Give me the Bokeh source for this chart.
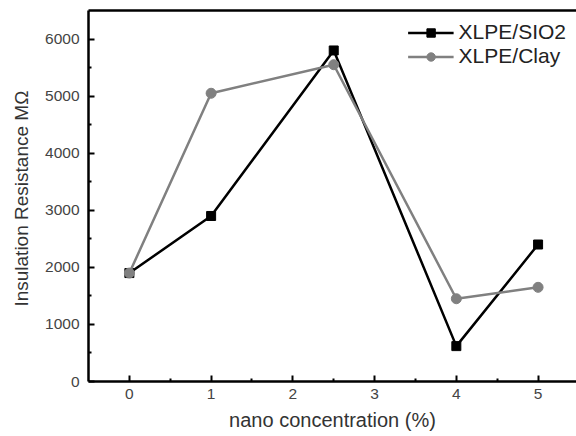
from bokeh.plotting import figure
from bokeh.models import Range1d, FixedTicker, Legend, LegendItem, LinearAxis
from bokeh.embed import file_html
from bokeh.resources import INLINE

x_vals = [0, 1, 2.5, 4, 5]
sio2 = [1900, 2900, 5800, 620, 2400]
clay = [1900, 5050, 5550, 1450, 1650]
x_ticks = [0, 1, 2, 3, 4, 5]
y_ticks = [0, 1000, 2000, 3000, 4000, 5000, 6000]

FONT = "Liberation Sans"

p = figure(width=576, height=436, output_backend="svg", toolbar_location=None,
           x_range=Range1d(-0.5, 5.47), y_range=Range1d(0, 6500),
           min_border_left=88, min_border_right=0, min_border_top=10, min_border_bottom=55)
p.xgrid.visible = False
p.ygrid.visible = False
p.outline_line_color = None

for ax in (p.xaxis[0], p.yaxis[0]):
    ax.axis_line_width = 2.5
    ax.axis_line_color = "black"
    ax.major_tick_in = 6
    ax.major_tick_out = 0
    ax.minor_tick_in = 3
    ax.minor_tick_out = 0
    ax.major_tick_line_width = 2
    ax.minor_tick_line_width = 2
    ax.major_label_text_font = FONT
    ax.major_label_text_font_size = "15.5px"
    ax.major_label_text_color = "#444444"
    ax.axis_label_text_font = FONT
    ax.axis_label_text_font_style = "normal"
    ax.axis_label_text_color = "#333333"

p.xaxis.axis_label_text_font_size = "20px"
p.yaxis.axis_label_text_font_size = "19px"
p.xaxis.ticker = FixedTicker(ticks=x_ticks, minor_ticks=[0.5, 1.5, 2.5, 3.5, 4.5])
p.yaxis.ticker = FixedTicker(ticks=y_ticks, minor_ticks=[500, 1500, 2500, 3500, 4500, 5500])
p.xaxis.axis_label = "nano concentration (%)"
p.yaxis.axis_label = "Insulation Resistance  MΩ"
p.xaxis.major_label_standoff = 7
p.yaxis.major_label_standoff = 9
p.xaxis.axis_label_standoff = 7
p.yaxis.axis_label_standoff = 10

top = LinearAxis(axis_line_width=2.5, major_tick_line_color=None, minor_tick_line_color=None,
                 major_label_text_font_size="0px", ticker=FixedTicker(ticks=[]))
p.add_layout(top, "above")

l1 = p.line(x_vals, sio2, line_color="black", line_width=2.5)
m1 = p.scatter(x_vals, sio2, marker="square", size=9, fill_color="black", line_color="black")
l2 = p.line(x_vals, clay, line_color="#808080", line_width=2.5)
m2 = p.scatter(x_vals, clay, marker="circle", size=10, fill_color="#808080", line_color="#808080")

legend = Legend(items=[LegendItem(label="XLPE/SIO2", renderers=[l1, m1]),
                       LegendItem(label="XLPE/Clay", renderers=[l2, m2])],
                location="top_right", border_line_color=None, background_fill_alpha=0,
                label_text_font=FONT, label_text_font_size="21px", label_text_color="#222222",
                glyph_width=46, glyph_height=21, spacing=0, padding=2, margin=10,
                label_standoff=5, label_height=21)
p.add_layout(legend, "center")

open("out.html", "w").write(file_html(p, INLINE))
